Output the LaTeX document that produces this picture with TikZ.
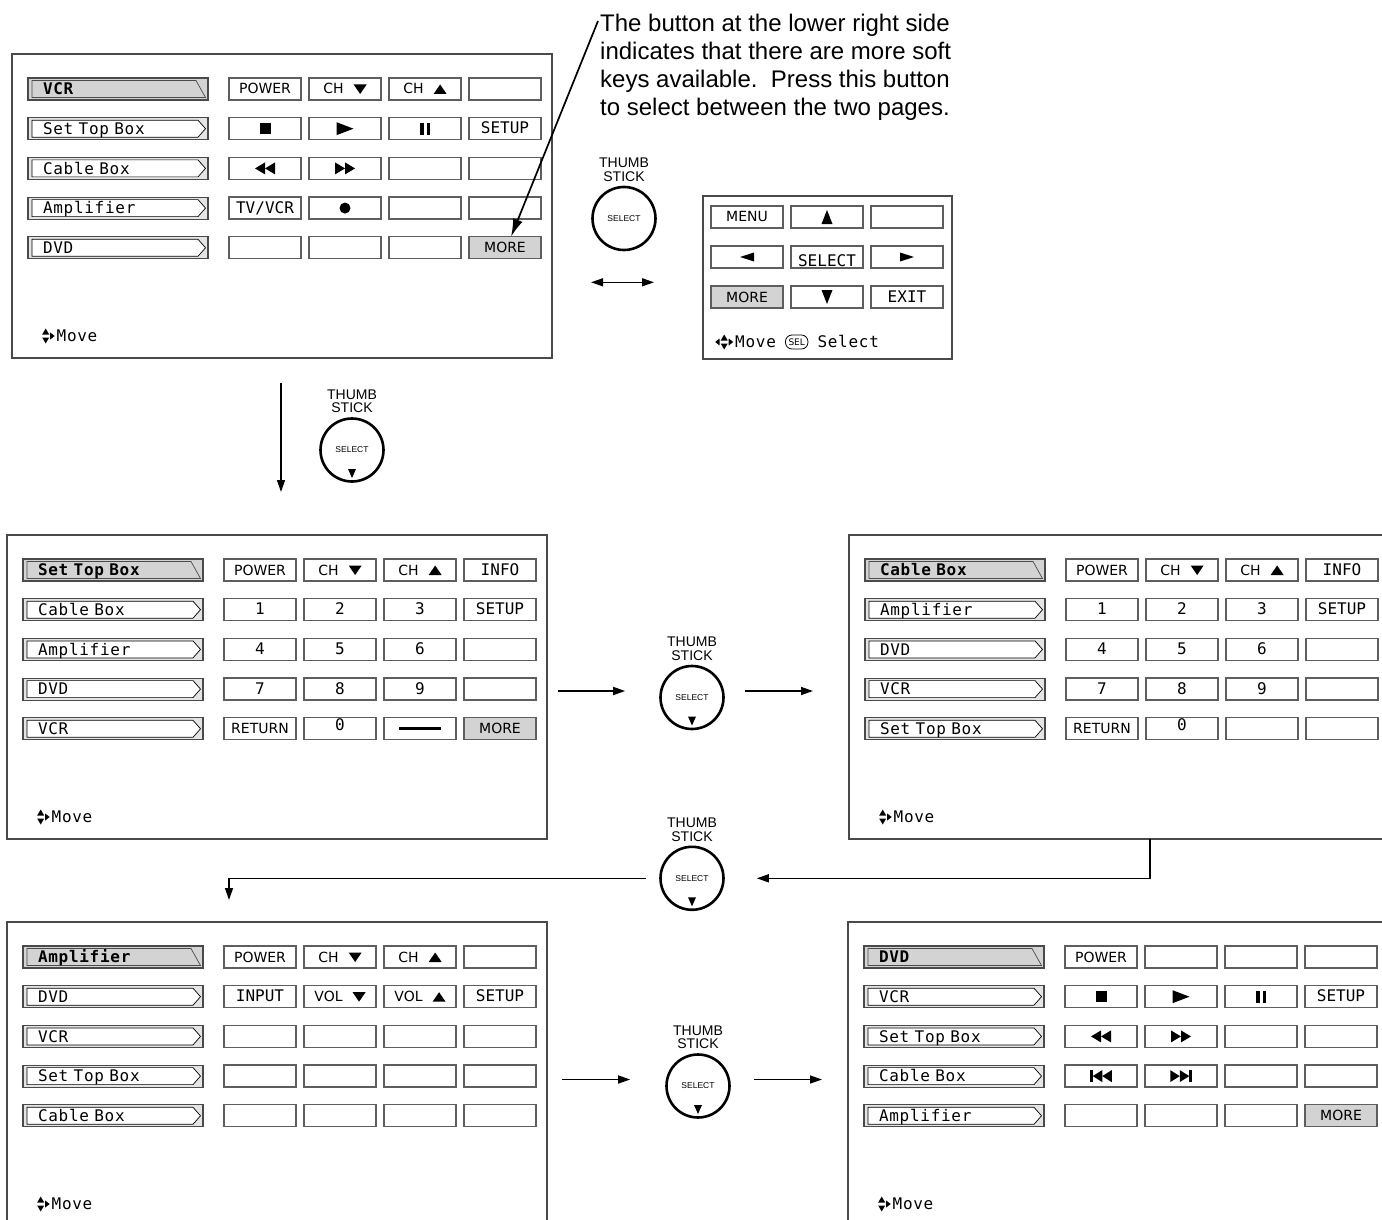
\documentclass[tikz,border=0pt]{standalone}
\usepackage{fontspec}
\setmainfont{Liberation Sans}
\newfontfamily\dejavu{DejaVu Sans}
\newfontfamily\dejamono{DejaVu Sans Mono}
\newfontfamily\dejamonowide[LetterSpace=4.5]{DejaVu Sans Mono}
\usetikzlibrary{arrows.meta,positioning}
\definecolor{framegray}{HTML}{4A4A4A}
\definecolor{keyline}{HTML}{5E5E5E}
\definecolor{keygray}{HTML}{D3D3D3}
\definecolor{tabgray}{HTML}{E4E4E4}
\newcommand{\keyfont}{\dejavu\fontsize{14}{15}\selectfont}
\newcommand{\tabfont}{\dejamonowide\fontsize{16}{18}\selectfont}
\newcommand{\mn}{\dejamono\fontsize{16}{18}\selectfont}
\newcommand{\tvvcr}{TV/VCR}
\newcommand{\chsp}{\hspace{10pt}}
% key glyphs, drawn round (0,0) so they sit on the middle of the caps
\newcommand{\chdn}{\tikz[baseline=-5pt]\fill (-6.5pt,4.5pt) -- (6.5pt,4.5pt) -- (0pt,-5pt) -- cycle;}
\newcommand{\chup}{\tikz[baseline=-5pt]\fill (-6.5pt,-5pt) -- (6.5pt,-5pt) -- (0pt,4.5pt) -- cycle;}
\newcommand{\padup}{\tikz[baseline=-5pt]\fill (-5.5pt,-7pt) -- (5.5pt,-7pt) -- (0pt,7pt) -- cycle;}
\newcommand{\paddn}{\tikz[baseline=-5pt]\fill (-5.5pt,7pt) -- (5.5pt,7pt) -- (0pt,-7pt) -- cycle;}
\newcommand{\padlt}{\tikz[baseline=-5pt]\fill (7pt,-4.5pt) -- (7pt,4.5pt) -- (-7pt,0pt) -- cycle;}
\newcommand{\padrt}{\tikz[baseline=-5pt]\fill (-7pt,-4.5pt) -- (-7pt,4.5pt) -- (7pt,0pt) -- cycle;}
\newcommand{\icstop}{\tikz[baseline=-5pt]\fill (-5.5pt,-5.5pt) rectangle (5.5pt,5.5pt);}
\newcommand{\icplay}{\tikz[baseline=-5pt]\fill (-8pt,-6.5pt) -- (-8pt,6.5pt) -- (9pt,0pt) -- cycle;}
\newcommand{\icpause}{\tikz[baseline=-5pt]{\fill (-5pt,-6pt) rectangle (-1.5pt,6pt);
  \fill (1.5pt,-6pt) rectangle (5pt,6pt);}}
\newcommand{\icrew}{\tikz[baseline=-5pt]{\fill (0pt,-6pt) -- (0pt,6pt) -- (-10pt,0pt) -- cycle;
  \fill (10pt,-6pt) -- (10pt,6pt) -- (0pt,0pt) -- cycle;}}
\newcommand{\icff}{\tikz[baseline=-5pt]{\fill (0pt,-6pt) -- (0pt,6pt) -- (10pt,0pt) -- cycle;
  \fill (-10pt,-6pt) -- (-10pt,6pt) -- (0pt,0pt) -- cycle;}}
\newcommand{\icprev}{\tikz[baseline=-5pt]{\fill (-11pt,-6pt) rectangle (-8.5pt,6pt);
  \fill (-8.5pt,0pt) -- (1pt,6pt) -- (1pt,-6pt) -- cycle;
  \fill (1pt,0pt) -- (10.5pt,6pt) -- (10.5pt,-6pt) -- cycle;}}
\newcommand{\icnext}{\tikz[baseline=-5pt]{\fill (11pt,-6pt) rectangle (8.5pt,6pt);
  \fill (8.5pt,0pt) -- (-1pt,6pt) -- (-1pt,-6pt) -- cycle;
  \fill (-1pt,0pt) -- (-10.5pt,6pt) -- (-10.5pt,-6pt) -- cycle;}}
\newcommand{\icrec}{\tikz[baseline=-5pt]\fill (0pt,0pt) circle (5.5pt);}
\newcommand{\icdash}{\tikz[baseline=-5pt]\fill (-21pt,-1.5pt) rectangle (21pt,1.5pt);}
\newcommand{\movemark}{\tikz[baseline=-5.85pt]{\fill (0pt,1.5pt) -- (7pt,1.5pt) -- (3.5pt,7.5pt) -- cycle;
  \fill (0pt,-1.5pt) -- (7pt,-1.5pt) -- (3.5pt,-7.5pt) -- cycle;
  \fill (8pt,-3.5pt) -- (8pt,3.5pt) -- (12.5pt,0pt) -- cycle;}}
\newcommand{\movemarkall}{\tikz[baseline=-5.85pt]{\fill (-1pt,-3.5pt) -- (-1pt,3.5pt) -- (-5.5pt,0pt) -- cycle;
  \fill (0pt,1.5pt) -- (7pt,1.5pt) -- (3.5pt,7.5pt) -- cycle;
  \fill (0pt,-1.5pt) -- (7pt,-1.5pt) -- (3.5pt,-7.5pt) -- cycle;
  \fill (8pt,-3.5pt) -- (8pt,3.5pt) -- (12.5pt,0pt) -- cycle;}}

\begin{document}
\begin{tikzpicture}[x=1pt,y=-1pt,
  screen/.style={draw=framegray,line width=1.3pt,anchor=north west,inner sep=0pt,outer sep=0pt,
    minimum width=540pt,minimum height=304pt},
  softkey/.style={draw=keyline,line width=1.3pt,minimum width=72pt,minimum height=22pt,
    inner sep=0pt,outer sep=0pt,font=\keyfont,text height=10pt,text depth=0pt},
  devtab/.style={draw=framegray,line width=1.2pt,fill=tabgray,minimum width=180pt,minimum height=22pt,
    inner xsep=15pt,inner ysep=0pt,text width=150pt,align=left,font=\tabfont,text height=11.7pt,text depth=0pt,
    path picture={\filldraw[fill=white,draw=black,line width=0.7pt]
      ([shift={(4pt,-2.5pt)}]path picture bounding box.north west) -- ([shift={(-10pt,-2.5pt)}]path picture bounding box.north east)
      -- ([shift={(-2.5pt,0pt)}]path picture bounding box.east) -- ([shift={(-10pt,2.5pt)}]path picture bounding box.south east)
      -- ([shift={(4pt,2.5pt)}]path picture bounding box.south west) -- cycle;}},
  seltab/.style={devtab,fill=keygray,
    path picture={\draw[line width=0.7pt]
      ([shift={(4pt,2.5pt)}]path picture bounding box.south west) -- ([shift={(4pt,-2.5pt)}]path picture bounding box.north west)
      -- ([shift={(-12pt,-2.5pt)}]path picture bounding box.north east) -- ([shift={(-2.5pt,2.5pt)}]path picture bounding box.south east)
      -- cycle;}},
  hint/.style={anchor=west,inner sep=0pt,font=\tabfont,text height=11.7pt,text depth=0pt},
  selbadge/.style={draw,rounded corners=6.5pt,line width=0.8pt,inner xsep=3pt,inner ysep=1.5pt,
    minimum height=14pt,font=\dejavu\fontsize{9}{9}\selectfont,text height=6.6pt,text depth=0pt},
  stick/.style={circle,draw,line width=2.6pt,minimum size=63pt,inner sep=0pt,font=\fontsize{8.5}{9}\selectfont},
  push/.style={stick,path picture={\fill ([shift={(-4pt,12.5pt)}]path picture bounding box.south)
      -- ([shift={(4pt,12.5pt)}]path picture bounding box.south) -- ([shift={(0pt,3.5pt)}]path picture bounding box.south) -- cycle;}},
  sticklabel/.style={align=center,inner sep=0pt,font=\fontsize{14}{13.5}\selectfont},
  notetext/.style={align=left,inner sep=0pt,anchor=north west,font=\fontsize{24}{28}\selectfont},
  flow/.style={line width=1.4pt,-{Triangle[length=12pt,width=8pt]}},
  pageswap/.style={line width=1.4pt,{Triangle[length=12pt,width=8pt]}-{Triangle[length=12pt,width=8pt]}},
  moreline/.style={line width=1.7pt,-{Latex[length=18pt,width=10pt]}}]
\useasboundingbox (0,0) rectangle (1382,1220);
\clip (0,0) rectangle (1382,1220);

% VCR page
\node[screen] (vcrpage) at (12,54) {};
\node[seltab] (vcr-t0) at (118,89) {\textbf{VCR}};
\foreach \dev [count=\r] in {Set Top Box,Cable Box,Amplifier,DVD}
  \node[devtab] (vcr-t\r) at (118,{89+39.7*\r}) {\dev};
\foreach \lbl/\kfill [count=\k from 0] in {POWER/white,CH\chsp\chdn/white,CH\chsp\chup/white,{}/white,
    \icstop/white,\icplay/white,\icpause/white,\mn SETUP/white,
    \icrew/white,\icff/white,{}/white,{}/white,
    \mn\tvvcr/white,\icrec/white,{}/white,{}/white,
    {}/white,{}/white,{}/white,MORE/keygray}
  \node[softkey,fill=\kfill] (vcr-\k) at ({265+80*mod(\k,4)},{89+39.7*int(\k/4)}) {\lbl};
\node[hint] (vcr-hint) at (42,336) {\movemark\hspace{2pt}Move};

\node[notetext] (note) at (600,14) {The button at the lower right side\\indicates that there are more soft\\keys available.\ \ Press this button\\to select between the two pages.};

% thumb stick and the second page of soft keys
\node[stick] (stick1) at (624,218.5) {SELECT};
\node[sticklabel,above=4pt of stick1] (stick1-lbl) {THUMB\\STICK};

\node[screen,minimum width=249pt,minimum height=163pt] (morepage) at (703,196) {};
\foreach \lbl/\kfill [count=\k from 0] in {MENU/white,\padup/white,{}/white,
    \padlt/white,\mn\raisebox{-4.5pt}{SELECT}/white,\padrt/white,
    MORE/keygray,\paddn/white,\mn EXIT/white}
  \node[softkey,fill=\kfill] (more-\k) at ({747+80*mod(\k,3)},{217+40*int(\k/3)}) {\lbl};
\node[hint] (more-hint) at (715,342) {\movemarkall\hspace{2pt}Move};
\node[selbadge,right=9pt of more-hint] (more-sel) {SEL};
\node[hint,right=9pt of more-sel] (more-select) {Select};

% Set Top Box page
\node[push] (stick2) at (352,450) {SELECT};
\node[sticklabel,above=4pt of stick2] (stick2-lbl) {THUMB\\STICK};
\node[screen] (stbpage) at (7,535) {};
\node[seltab] (stb-t0) at (113,570) {\textbf{Set Top Box}};
\foreach \dev [count=\r] in {Cable Box,Amplifier,DVD,VCR}
  \node[devtab] (stb-t\r) at (113,{570+39.7*\r}) {\dev};
\foreach \lbl/\kfill [count=\k from 0] in {POWER/white,CH\chsp\chdn/white,CH\chsp\chup/white,\mn INFO/white,
    \mn 1/white,\mn 2/white,\mn 3/white,\mn SETUP/white,
    \mn 4/white,\mn 5/white,\mn 6/white,{}/white,
    \mn 7/white,\mn 8/white,\mn 9/white,{}/white,
    RETURN/white,\mn\raisebox{3.5pt}{0}/white,\icdash/white,MORE/keygray}
  \node[softkey,fill=\kfill] (stb-\k) at ({260+80*mod(\k,4)},{570+39.7*int(\k/4)}) {\lbl};
\node[hint] (stb-hint) at (37,817) {\movemark\hspace{2pt}Move};

% Cable Box page
\node[push] (stick3) at (692,697.5) {SELECT};
\node[sticklabel,above=4pt of stick3] (stick3-lbl) {THUMB\\STICK};
\node[screen] (cablepage) at (849,535) {};
\node[seltab] (cab-t0) at (955,570) {\textbf{Cable Box}};
\foreach \dev [count=\r] in {Amplifier,DVD,VCR,Set Top Box}
  \node[devtab] (cab-t\r) at (955,{570+39.7*\r}) {\dev};
\foreach \lbl [count=\k from 0] in {POWER,CH\chsp\chdn,CH\chsp\chup,\mn INFO,
    \mn 1,\mn 2,\mn 3,\mn SETUP,\mn 4,\mn 5,\mn 6,{},\mn 7,\mn 8,\mn 9,{},
    RETURN,\mn\raisebox{3.5pt}{0},{},{}}
  \node[softkey,fill=white] (cab-\k) at ({1102+80*mod(\k,4)},{570+39.7*int(\k/4)}) {\lbl};
\node[hint] (cab-hint) at (879,817) {\movemark\hspace{2pt}Move};

% Amplifier page
\node[push] (stick4) at (692,878.3) {SELECT};
\node[sticklabel,above=4pt of stick4] (stick4-lbl) {THUMB\\STICK};
\node[screen] (amppage) at (7,922) {};
\node[seltab] (amp-t0) at (113,957) {\textbf{Amplifier}};
\foreach \dev [count=\r] in {DVD,VCR,Set Top Box,Cable Box}
  \node[devtab] (amp-t\r) at (113,{957+39.7*\r}) {\dev};
\foreach \lbl [count=\k from 0] in {POWER,CH\chsp\chdn,CH\chsp\chup,{},
    \mn INPUT,VOL\chsp\chdn,VOL\chsp\chup,\mn SETUP,
    {},{},{},{},{},{},{},{},{},{},{},{}}
  \node[softkey,fill=white] (amp-\k) at ({260+80*mod(\k,4)},{957+39.7*int(\k/4)}) {\lbl};
\node[hint] (amp-hint) at (37,1204) {\movemark\hspace{2pt}Move};

% DVD page
\node[push] (stick5) at (698,1086) {SELECT};
\node[sticklabel,above=4pt of stick5] (stick5-lbl) {THUMB\\STICK};
\node[screen] (dvdpage) at (848,922) {};
\node[seltab] (dvd-t0) at (954,957) {\textbf{DVD}};
\foreach \dev [count=\r] in {VCR,Set Top Box,Cable Box,Amplifier}
  \node[devtab] (dvd-t\r) at (954,{957+39.7*\r}) {\dev};
\foreach \lbl/\kfill [count=\k from 0] in {POWER/white,{}/white,{}/white,{}/white,
    \icstop/white,\icplay/white,\icpause/white,\mn SETUP/white,
    \icrew/white,\icff/white,{}/white,{}/white,
    \icprev/white,\icnext/white,{}/white,{}/white,
    {}/white,{}/white,{}/white,MORE/keygray}
  \node[softkey,fill=\kfill] (dvd-\k) at ({1101+80*mod(\k,4)},{957+39.7*int(\k/4)}) {\lbl};
\node[hint] (dvd-hint) at (878,1204) {\movemark\hspace{2pt}Move};

% connectors
\draw[moreline] ([shift={(-2pt,-7pt)}]note.north west) -- ([xshift=6pt]vcr-19.north);
\draw[pageswap] ([shift={(-33pt,-31pt)}]stick1.south) -- ([shift={(30pt,-31pt)}]stick1.south);
\draw[flow] ([shift={(-1pt,-25pt)}]vcrpage.south) -- ([shift={(4pt,43pt)}]stbpage.north);
\draw[flow] ([shift={(11pt,-4pt)}]stbpage.east) -- ([shift={(-34pt,6.5pt)}]stick3.west);
\draw[flow] ([shift={(20pt,6.5pt)}]stick3.east) -- ([shift={(-36pt,-4pt)}]cablepage.west);
\draw[flow] ([xshift=31pt]cablepage.south) |- ([xshift=32pt]stick4.east);
\draw[flow] ([xshift=-13pt]stick4.west) -| ([shift={(222pt,22pt)}]amppage.north west);
\draw[flow] ([shift={(15pt,-5.5pt)}]amppage.east) -- ([shift={(-35pt,6.5pt)}]stick5.west);
\draw[flow] ([shift={(23pt,6.5pt)}]stick5.east) -- ([shift={(-26pt,-5.5pt)}]dvdpage.west);
\end{tikzpicture}
\end{document}
